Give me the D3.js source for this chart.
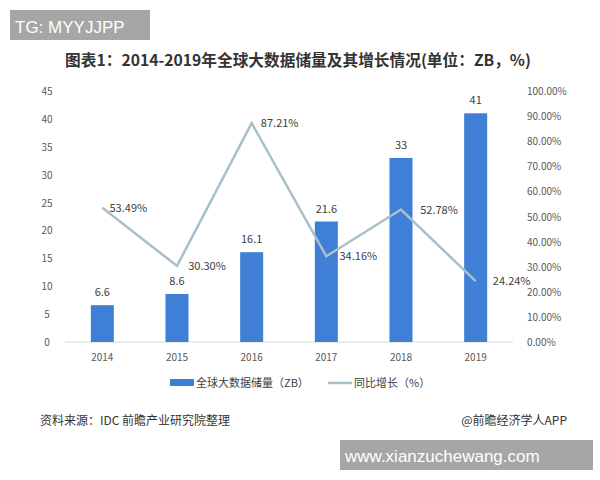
<!DOCTYPE html>
<html><head><meta charset="utf-8">
<script src="https://cdn.jsdelivr.net/npm/d3@7"></script>
<style>body{margin:0;background:#fff}svg{font-family:"Noto Sans CJK SC","Noto Sans",sans-serif}</style>
</head><body><svg id="c" width="600" height="480"></svg>
<script>
const years = ['2014', '2015', '2016', '2017', '2018', '2019'];
const storage = [6.6, 8.6, 16.1, 21.6, 33, 41];
const growth = [53.49, 30.30, 87.21, 34.16, 52.78, 24.24];
const leftTicks = [0, 5, 10, 15, 20, 25, 30, 35, 40, 45];
const rightTicks = [0, 10, 20, 30, 40, 50, 60, 70, 80, 90, 100];
const labelDx = [0, 4, 2, 6, 12, 10];

const svg = d3.select('#c');
const m = {left: 65, right: 513, top: 91, bottom: 342};
const barColor = '#3f7fd6', lineColor = '#a9bfc9';

const x = d3.scaleBand().domain(years).range([m.left, m.right]);
const y = d3.scaleLinear().domain([0, 45]).range([m.bottom, m.top]);
const y2 = d3.scaleLinear().domain([0, 100]).range([m.bottom, m.top]);

// watermark box
svg.append('rect').attr('x', 10).attr('y', 10).attr('width', 140).attr('height', 30).attr('fill', '#a6a6a6');
svg.append('text').attr('x', 15).attr('y', 33).attr('fill', '#fff').attr('font-size', 17)
  .style('font-family', 'Liberation Sans, Arial').text('TG: MYYJJPP');

svg.append('text').attr('x', 298).attr('y', 66).attr('text-anchor', 'middle')
  .attr('font-size', 15.7).attr('font-weight', 'bold').attr('fill', '#333')
  .text('图表1：2014-2019年全球大数据储量及其增长情况(单位：ZB，%)');

svg.append('line').attr('x1', m.left).attr('x2', m.right).attr('y1', m.bottom).attr('y2', m.bottom)
  .attr('stroke', '#d9d9d9');

svg.append('g').attr('font-size', 10).attr('fill', '#595959').selectAll('text').data(leftTicks).join('text')
  .attr('x', 47).attr('y', d => y(d) + 4).attr('text-anchor', 'middle').text(d => d);
svg.append('g').attr('font-size', 10).attr('fill', '#595959').selectAll('text').data(rightTicks).join('text')
  .attr('x', 527).attr('y', d => y2(d) + 4).text(d => d.toFixed(2) + '%');
svg.append('g').attr('font-size', 10).attr('fill', '#595959').selectAll('text').data(years).join('text')
  .attr('x', d => x(d) + x.bandwidth() / 2).attr('y', 361).attr('text-anchor', 'middle').text(d => d);

const bw = 23;
svg.append('g').selectAll('rect').data(storage).join('rect')
  .attr('x', (d, i) => x(years[i]) + x.bandwidth() / 2 - bw / 2).attr('width', bw)
  .attr('y', d => y(d)).attr('height', d => m.bottom - y(d)).attr('fill', barColor);
svg.append('g').attr('font-size', 11).attr('fill', '#404040').selectAll('text').data(storage).join('text')
  .attr('x', (d, i) => x(years[i]) + x.bandwidth() / 2).attr('y', d => y(d) - 9)
  .attr('text-anchor', 'middle').text(d => d);

const line = d3.line().x((d, i) => x(years[i]) + x.bandwidth() / 2).y(d => y2(d));
svg.append('path').datum(growth).attr('d', line).attr('fill', 'none').attr('stroke', lineColor).attr('stroke-width', 2.5);
svg.append('g').attr('font-size', 11).attr('fill', '#404040').selectAll('text').data(growth).join('text')
  .attr('x', (d, i) => x(years[i]) + x.bandwidth() / 2 + 26 + labelDx[i]).attr('y', d => y2(d) + 4)
  .attr('text-anchor', 'middle').text(d => d.toFixed(2) + '%');

// legend
svg.append('rect').attr('x', 170).attr('y', 379).attr('width', 24).attr('height', 7).attr('fill', barColor);
svg.append('text').attr('x', 196).attr('y', 387).attr('font-size', 11).attr('fill', '#404040').text('全球大数据储量（ZB）');
svg.append('line').attr('x1', 328).attr('x2', 352).attr('y1', 383).attr('y2', 383).attr('stroke', lineColor).attr('stroke-width', 2.5);
svg.append('text').attr('x', 354).attr('y', 387).attr('font-size', 11).attr('fill', '#404040').text('同比增长（%）');

svg.append('text').attr('x', 40).attr('y', 425).attr('font-size', 12).attr('fill', '#333').text('资料来源：IDC 前瞻产业研究院整理');
svg.append('text').attr('x', 567).attr('y', 425).attr('font-size', 12).attr('fill', '#333').attr('text-anchor', 'end').text('@前瞻经济学人APP');

svg.append('rect').attr('x', 340).attr('y', 440).attr('width', 253).attr('height', 30).attr('fill', '#a6a6a6');
svg.append('text').attr('x', 345).attr('y', 462).attr('fill', '#fff').attr('font-size', 17)
  .style('font-family', 'Liberation Sans, Arial').text('www.xianzuchewang.com');
</script></body></html>
